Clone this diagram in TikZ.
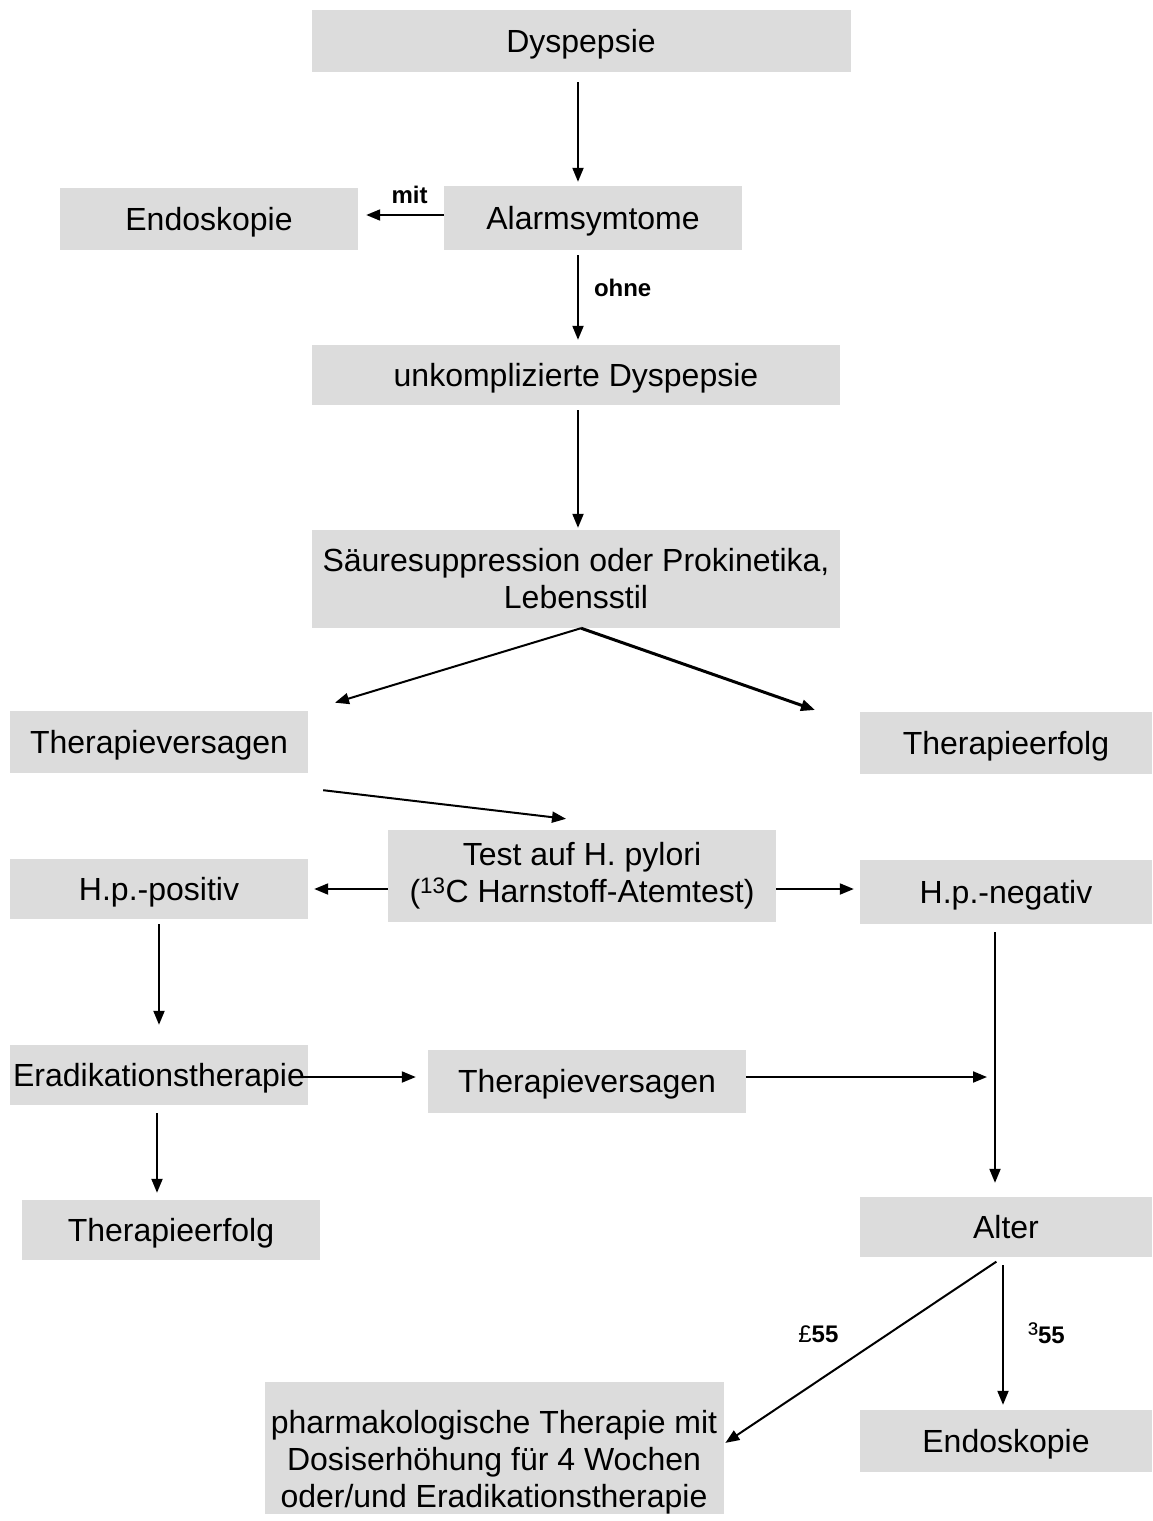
\documentclass[tikz,border=0pt]{standalone}
\usepackage{fontspec}
\setmainfont{Liberation Sans}
\usepackage{tikz}
\usetikzlibrary{arrows.meta,positioning}
\definecolor{BoxGray}{RGB}{220,220,220}

\begin{document}
\begin{tikzpicture}[
  x=1pt, y=-1pt,
  font=\fontsize{32}{37}\selectfont,
  multibox/.style={
    fill=BoxGray, inner sep=0pt,
    minimum width=298pt,
    minimum height=62pt,
    align=center},
  box/.style={
    multibox,
    text height=23pt, text depth=0pt},
  arrow/.style={
    -{Triangle[length=14pt,width=11pt]},
    line width=2pt},
  note/.style={
    font=\fontsize{24}{28}\selectfont\bfseries,
    inner sep=2pt}
]
\useasboundingbox (0,0) rectangle (1153,1521);

\node[box, minimum width=539pt] (dysp) at (581,41) {Dyspepsie};
\node[box] (endoA) at (209,219) {Endoskopie};
\node[box, minimum height=64pt] (alarm) at (593,218) {Alarmsymtome};
\node[box, minimum width=528pt, minimum height=60pt] (unkompl) at (576,375)
  {unkomplizierte Dyspepsie};
\node[multibox, minimum width=528pt, minimum height=98pt] (saeure) at (576,579)
  {Säuresuppression oder Prokinetika,\\Lebensstil};
\node[box] (versagenA) at (159,742) {Therapieversagen};
\node[box, minimum width=292pt] (erfolgA) at (1006,743) {Therapieerfolg};
\node[multibox, minimum width=388pt, minimum height=92pt] (test) at (582,876)
  {Test auf H. pylori\\(\textsuperscript{13}C Harnstoff-Atemtest)};
\node[box, minimum height=60pt] (hppos) at (159,889) {H.p.-positiv};
\node[box, minimum width=292pt, minimum height=64pt] (hpneg) at (1006,892) {H.p.-negativ};
\node[box, minimum height=60pt] (erad) at (159,1075) {Eradikationstherapie};
\node[box, minimum width=318pt, minimum height=63pt] (versagenB) at (587,1081)
  {Therapieversagen};
\node[box, minimum height=60pt] (erfolgB) at (171,1230) {Therapieerfolg};
\node[box, minimum width=292pt, minimum height=60pt] (alter) at (1006,1227) {Alter};
\node[multibox, minimum width=459pt, minimum height=124pt] (pharm) at (494,1448)
  {\rule{0pt}{51pt}pharmakologische Therapie mit\\Dosiserhöhung für 4 Wochen\\oder/und Eradikationstherapie};
\node[box, minimum width=292pt] (endoB) at (1006,1441) {Endoskopie};

\coordinate (toErfolg) at (815,710);

\draw[arrow, shorten <=10pt, shorten >=4pt] ([xshift=-3pt]dysp.south)
  -- ([xshift=-3pt]dysp.south |- alarm.north);
\draw[arrow, shorten >=8pt] ([yshift=3pt]alarm.west) --
  node[note, pos=0.4, above=8pt] {mit} ([yshift=3pt]alarm.west -| endoA.east);
\draw[arrow, shorten <=5pt, shorten >=5pt] ([xshift=-3pt]dysp.south |- alarm.south)
  -- node[note, pos=0.4, right=13pt] {ohne} ([xshift=-3pt]dysp.south |- unkompl.north);
\draw[arrow, shorten <=5pt, shorten >=2pt] ([xshift=2pt]unkompl.south)
  -- ([xshift=2pt]unkompl.south |- saeure.north);

\draw[arrow, shorten >=28pt] ([xshift=5pt]saeure.south) -- (versagenA.north east);
\draw[arrow, line width=3pt] ([xshift=5pt]saeure.south) -- (toErfolg);

\draw[arrow] ([shift={(15,17)}]versagenA.south east) -- ([shift={(-16,-11)}]test.north);
\draw[arrow, shorten >=6pt] (test.west |- hppos.east) -- (hppos.east);
\draw[arrow, shorten >=6pt] (test.east |- hppos.east) -- (hpneg.west |- hppos.east);

\draw[arrow, shorten <=5pt, shorten >=20pt] (hppos.south) -- (erad.north);
\draw[arrow, shorten <=-6pt, shorten >=12pt] ([yshift=-2pt]erad.east)
  -- ([yshift=-2pt]erad.east -| versagenB.west);
\draw[arrow, shorten <=8pt, shorten >=7pt] ([xshift=-2pt]erad.south)
  -- ([xshift=-2pt]erad.south |- erfolgB.north);

\draw[arrow, shorten <=8pt, shorten >=14pt] ([xshift=-11pt]hpneg.south)
  -- ([xshift=-11pt]alter.north);
\draw[arrow, shorten >=8pt] ([yshift=4pt]versagenB.east)
  -- ([xshift=-11pt,yshift=4pt]hpneg.south |- versagenB.east);

\draw[arrow, shorten <=8pt, shorten >=2pt] ([xshift=-3pt]alter.south)
  -- node[note, pos=0.5, above left=5pt and 22pt] {{\mdseries £}55} ([yshift=4pt]pharm.east);
\draw[arrow, shorten <=8pt, shorten >=5pt] ([xshift=-3pt]alter.south)
  -- node[note, right=22pt] {{\mdseries\fontsize{30}{30}\selectfont ³}55} ([xshift=-3pt]alter.south |- endoB.north);
\end{tikzpicture}
\end{document}
